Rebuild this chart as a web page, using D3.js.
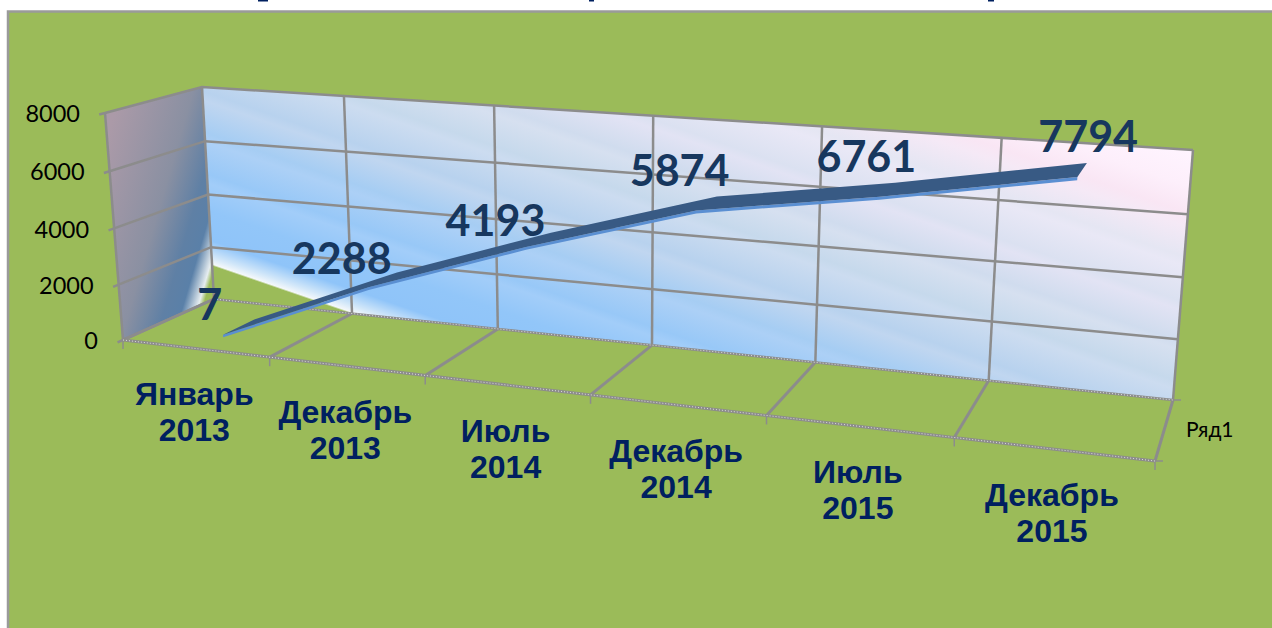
<!DOCTYPE html>
<html>
<head>
<meta charset="utf-8">
<script src="https://cdn.jsdelivr.net/npm/d3@7"></script>
<style>
  html, body { margin: 0; padding: 0; background: #fff; overflow: hidden; }
  svg { display: block; }
</style>
</head>
<body>
<div id="chart"></div>
<script>
// Chart data
const categories = ["Январь 2013", "Декабрь 2013", "Июль 2014", "Декабрь 2014", "Июль 2015", "Декабрь 2015"];
const values = [7, 2288, 4193, 5874, 6761, 7794];
const yTicks = [0, 2000, 4000, 6000, 8000];
const seriesName = "Ряд1";

const width = 1272;
const height = 628;

// Corners of the back wall and of the front plane, as [x, y] in the picture:
// bottom left, bottom right, top right, top left.
const backQuad = [[214, 299], [1173, 400], [1193, 150], [202, 87]];
const frontQuad = [[123, 340], [1155, 461], [1176, 190], [105, 113]];

// Square to quad mapping, this is what gives the wall its perspective.
function quadMap([p0, p1, p2, p3]) {
  const dx1 = p1[0] - p2[0], dx2 = p3[0] - p2[0], sx = p0[0] - p1[0] + p2[0] - p3[0];
  const dy1 = p1[1] - p2[1], dy2 = p3[1] - p2[1], sy = p0[1] - p1[1] + p2[1] - p3[1];
  const det = dx1 * dy2 - dx2 * dy1;
  const g = (sx * dy2 - dx2 * sy) / det;
  const h = (dx1 * sy - sx * dy1) / det;
  const a = p1[0] - p0[0] + g * p1[0], b = p3[0] - p0[0] + h * p3[0];
  const d = p1[1] - p0[1] + g * p1[1], e = p3[1] - p0[1] + h * p3[1];
  return (u, v) => {
    const w = g * u + h * v + 1;
    return [(a * u + b * v + p0[0]) / w, (d * u + e * v + p0[1]) / w];
  };
}
const back = quadMap(backQuad);
const front = quadMap(frontQuad);

// u along the categories, v up the value axis, depth 0 = front and 1 = back
function project(u, v, depth) {
  return d3.interpolateArray(front(u, v), back(u, v))(depth);
}

const x = d3.scaleBand().domain(categories).range([0, 1]);
const y = d3.scaleLinear().domain([0, 8000]).range([0, 1]);
const edges = d3.range(categories.length + 1).map(i => i / categories.length);
const centre = c => x(c) + x.bandwidth() / 2;

const svg = d3.select("#chart").append("svg")
  .attr("width", width)
  .attr("height", height)
  .attr("viewBox", [0, 0, width, height]);

const defs = svg.append("defs");

// Wall fill: bands running diagonally, blue low on the left to pink top right.
const wallStops = [
  [0, "#9bbb59"], [0.004, "#f4f8fb"], [0.02, "#d2e7f9"], [0.055, "#8fc4f9"], [0.12, "#92c6f9"],
  [0.18, "#a2cdf9"], [0.2, "#98c8f7"], [0.27, "#acd0f6"], [0.29, "#a6cdf3"], [0.36, "#c0d6f0"],
  [0.38, "#b8d2ee"], [0.46, "#ccdcf0"], [0.48, "#c6d9ec"], [0.55, "#d6e0f0"], [0.57, "#d0dcee"],
  [0.64, "#e2e3f4"], [0.66, "#dbe1f1"], [0.74, "#e9e8f6"], [0.76, "#e5e6f3"], [0.83, "#f5e9f6"],
  [0.86, "#f9e6f4"], [0.92, "#fdeffb"], [1, "#fff4ff"]
];
defs.append("linearGradient")
  .attr("id", "wallFill")
  .attr("gradientUnits", "userSpaceOnUse")
  .attr("x1", 282).attr("y1", 290)
  .attr("x2", 421).attr("y2", -114)
  .selectAll("stop")
  .data(wallStops)
  .join("stop")
  .attr("offset", d => d[0])
  .attr("stop-color", d => d[1]);

const sideStops = [
  [0, "#ab9aa8"], [0.5, "#8a90a2"], [0.74, "#5f80a5"], [0.86, "#5a80a8"],
  [0.965, "#e6edf0"], [1, "#9bbb59"]
];
defs.append("linearGradient")
  .attr("id", "sideFill")
  .attr("gradientUnits", "userSpaceOnUse")
  .attr("x1", 113).attr("y1", 117)
  .attr("x2", 247).attr("y2", 156)
  .selectAll("stop")
  .data(sideStops)
  .join("stop")
  .attr("offset", d => d[0])
  .attr("stop-color", d => d[1]);

// Chart area
svg.append("rect")
  .attr("x", 8).attr("y", 11.5)
  .attr("width", width).attr("height", height)
  .attr("fill", "#9bbb59")
  .attr("stroke", "#9a9a9a")
  .attr("stroke-width", 2.5);

// What is left of the cropped title along the top edge
svg.append("g")
  .attr("fill", "#002060")
  .selectAll("rect")
  .data([[258, 10], [589, 5], [988, 6]])
  .join("rect")
  .attr("x", d => d[0])
  .attr("y", 0)
  .attr("width", d => d[1])
  .attr("height", 1.5);

const poly = d3.line();

svg.append("path")
  .attr("d", poly(backQuad) + "Z")
  .attr("fill", "url(#wallFill)");

svg.append("path")
  .attr("d", poly([project(0, 0, 0), project(0, 0, 1), project(0, 1, 1), project(0, 1, 0)]) + "Z")
  .attr("fill", "url(#sideFill)");

const gridColor = "#8c8c8c";
const grid = svg.append("g").attr("fill", "none").attr("stroke", gridColor).attr("stroke-width", 2.5);

// Horizontal grid lines, round the side wall and along the back wall
yTicks.forEach(t => {
  grid.append("path")
    .attr("d", poly([project(0, y(t), -0.06), project(0, y(t), 0), project(0, y(t), 1), project(1, y(t), 1)]));
});

// Vertical grid on the back wall, floor lines running to the front with tick stubs
edges.forEach(e => {
  grid.append("path").attr("d", poly([back(e, 0), back(e, 1)]));
  grid.append("path").attr("d", poly([back(e, 0), front(e, 0)])).attr("stroke-width", 3);
  const [fx, fy] = front(e, 0);
  grid.append("path").attr("d", `M${fx},${fy}V${fy + 9}`).attr("stroke-width", 1.5);
});
grid.append("path").attr("d", poly([project(0, 0, 0), project(0, 1, 0)]));
grid.append("path").attr("d", poly([front(0, 0), front(1, 0)])).attr("stroke-width", 3);
grid.append("path").attr("d", poly([front(1, 0), [front(1, 0)[0] + 8, front(1, 0)[1]]])).attr("stroke-width", 1.5);
grid.append("path").attr("d", poly([back(1, 0), [back(1, 0)[0] + 8, back(1, 0)[1]]])).attr("stroke-width", 1.5);

// Speckle on the floor edges
[[front(0, 0), front(1, 0)], [back(0, 0), back(1, 0)]].forEach(seg => {
  svg.append("path")
    .attr("d", poly(seg))
    .attr("fill", "none")
    .attr("stroke", "#dcdcdc")
    .attr("stroke-width", 1)
    .attr("stroke-dasharray", "1 2");
});

// The ribbon: top face between two depths, a thin lighter face under its front edge
const depthBack = 0.68;
const depthFront = 0.32;
const thickness = 0.012;
const rows = categories.map((c, i) => ({
  u: centre(c),
  v: y(values[i])
}));

const ribbonSide = d3.area()
  .x0(d => project(d.u, d.v - thickness, depthFront)[0])
  .y0(d => project(d.u, d.v - thickness, depthFront)[1])
  .x1(d => project(d.u, d.v, depthFront)[0])
  .y1(d => project(d.u, d.v, depthFront)[1]);

const ribbonTop = d3.area()
  .x0(d => project(d.u, d.v, depthFront)[0])
  .y0(d => project(d.u, d.v, depthFront)[1])
  .x1(d => project(d.u, d.v, depthBack)[0])
  .y1(d => project(d.u, d.v, depthBack)[1]);

svg.append("path").datum(rows).attr("d", ribbonSide).attr("fill", "#5a8fd2");
svg.append("path").datum(rows).attr("d", ribbonTop).attr("fill", "#385a84");

// Value labels sit up and off the ribbon
const labelShift = [[-29, -22], [-41, -21], [-43, -19], [-27, -33], [-21, -33], [6, -33]];
svg.append("g")
  .attr("font-family", "Lato, sans-serif")
  .attr("font-weight", 700)
  .attr("font-size", 43)
  .attr("fill", "#17375e")
  .attr("text-anchor", "middle")
  .selectAll("text")
  .data(rows)
  .join("text")
  .attr("x", (d, i) => project(d.u, d.v, 0.5)[0] + labelShift[i][0])
  .attr("y", (d, i) => project(d.u, d.v, 0.5)[1] + labelShift[i][1])
  .attr("dy", "0.35em")
  .text((d, i) => values[i]);

// Value axis labels, next to the stubs on the front edge
svg.append("g")
  .attr("font-family", "Lato, sans-serif")
  .attr("font-size", 23.5)
  .attr("fill", "#000")
  .attr("text-anchor", "end")
  .selectAll("text")
  .data(yTicks)
  .join("text")
  .attr("x", d => project(0, y(d), 0)[0] - 25)
  .attr("y", d => project(0, y(d), 0)[1] + 1)
  .attr("dy", "0.35em")
  .text(d => d);

// Category labels, two lines each, under the front edge
const catLabels = svg.append("g")
  .attr("font-family", "'Liberation Sans', Arial, sans-serif")
  .attr("font-weight", 700)
  .attr("font-size", 32)
  .attr("fill", "#002060")
  .attr("text-anchor", "middle")
  .selectAll("text")
  .data(categories)
  .join("text")
  .attr("transform", d => {
    const [fx, fy] = front(centre(d), 0);
    return `translate(${fx - 1},${fy + 57})`;
  });
catLabels.selectAll("tspan")
  .data(d => d.split(" "))
  .join("tspan")
  .attr("x", 0)
  .attr("dy", (d, i) => i ? 36 : 0)
  .text(d => d);

// Depth axis label
svg.append("text")
  .attr("x", front(1, 0)[0] + 31)
  .attr("y", back(1, 0)[1] + 37)
  .attr("font-family", "Lato, sans-serif")
  .attr("font-size", 21)
  .attr("fill", "#000")
  .text(seriesName);
</script>
</body>
</html>
